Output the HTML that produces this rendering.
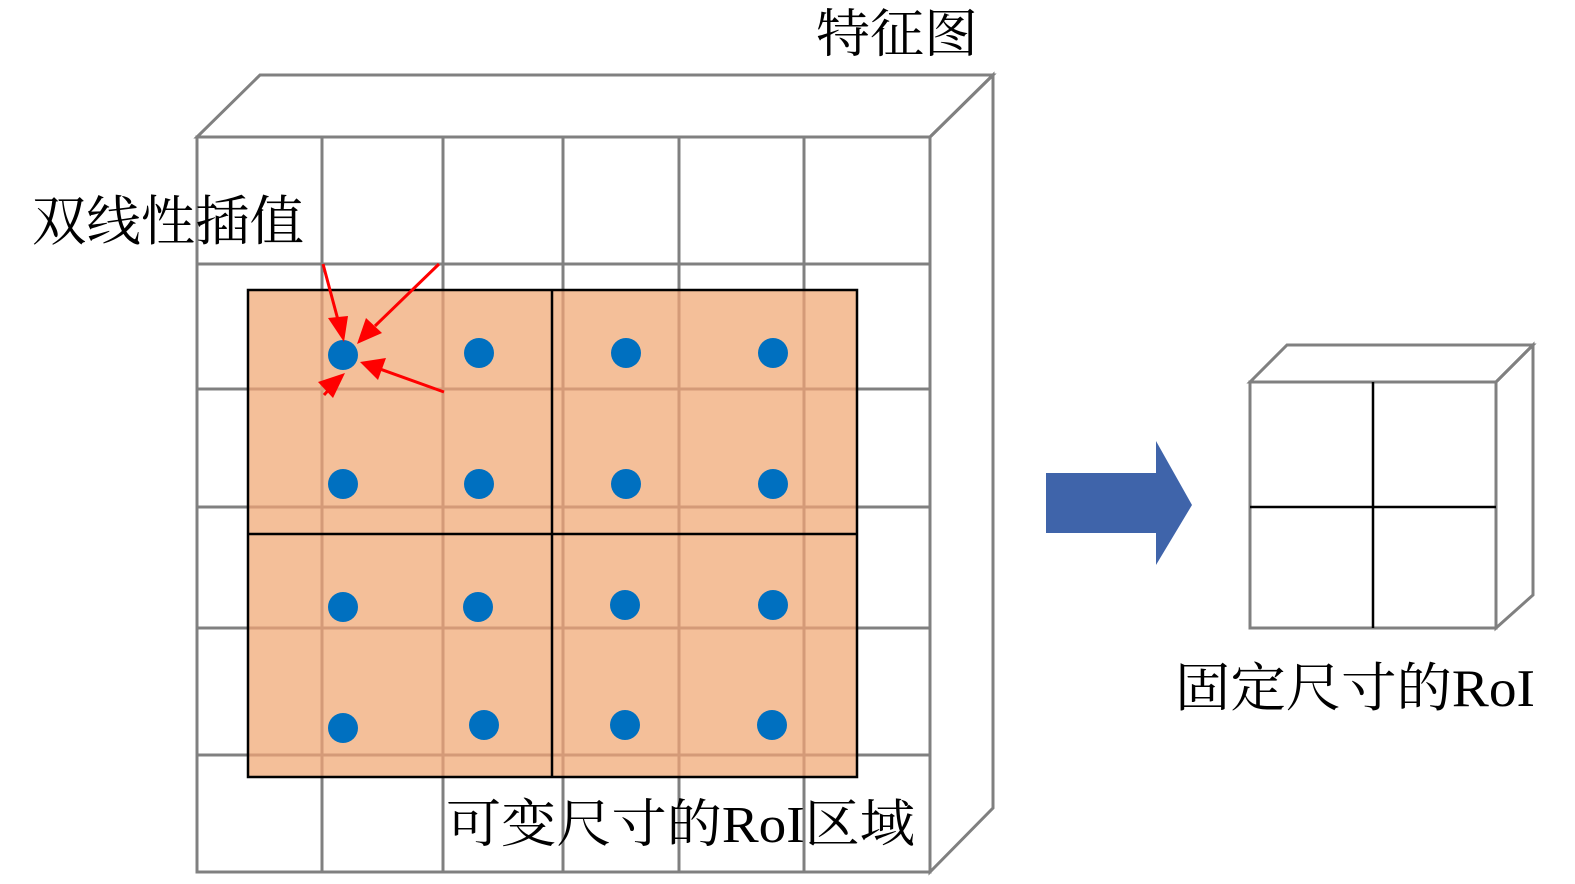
<!DOCTYPE html>
<html><head><meta charset="utf-8"><style>
html,body{margin:0;padding:0;background:#fff;}
svg{display:block;}
text{font-family:"Liberation Serif","Noto Serif CJK SC",serif;fill:#000;}
</style></head><body>
<svg width="1575" height="884" viewBox="0 0 1575 884" xmlns="http://www.w3.org/2000/svg">
<g stroke="#808080" stroke-width="3" fill="none">
<polygon points="197,137 260,75 993,75 930,137"/>
<polygon points="930,137 993,75 993,808 930,872"/>
<rect x="197" y="137" width="733" height="735"/>
<line x1="322" y1="137" x2="322" y2="872"/><line x1="443" y1="137" x2="443" y2="872"/>
<line x1="563" y1="137" x2="563" y2="872"/><line x1="679" y1="137" x2="679" y2="872"/>
<line x1="804" y1="137" x2="804" y2="872"/>
<line x1="197" y1="264" x2="930" y2="264"/><line x1="197" y1="389" x2="930" y2="389"/>
<line x1="197" y1="507" x2="930" y2="507"/><line x1="197" y1="628" x2="930" y2="628"/>
<line x1="197" y1="755" x2="930" y2="755"/>
</g>
<rect x="248" y="290" width="609" height="487" fill="#f4bf99"/>
<g stroke="#d49a78" stroke-width="3">
<line x1="322" y1="290" x2="322" y2="777"/><line x1="443" y1="290" x2="443" y2="777"/>
<line x1="563" y1="290" x2="563" y2="777"/><line x1="679" y1="290" x2="679" y2="777"/>
<line x1="804" y1="290" x2="804" y2="777"/>
<line x1="248" y1="389" x2="857" y2="389"/><line x1="248" y1="507" x2="857" y2="507"/>
<line x1="248" y1="628" x2="857" y2="628"/><line x1="248" y1="755" x2="857" y2="755"/>
</g>
<g stroke="#000" stroke-width="2.5" fill="none">
<rect x="248" y="290" width="609" height="487"/>
<line x1="552" y1="290" x2="552" y2="777"/>
<line x1="248" y1="534" x2="857" y2="534"/>
</g>
<g fill="#0070c0">
<circle cx="343" cy="355" r="15"/><circle cx="479" cy="353" r="15"/><circle cx="626" cy="353" r="15"/><circle cx="773" cy="353" r="15"/>
<circle cx="343" cy="484" r="15"/><circle cx="479" cy="484" r="15"/><circle cx="626" cy="484" r="15"/><circle cx="773" cy="484" r="15"/>
<circle cx="343" cy="607" r="15"/><circle cx="478" cy="607" r="15"/><circle cx="625" cy="605" r="15"/><circle cx="773" cy="605" r="15"/>
<circle cx="343" cy="728" r="15"/><circle cx="484" cy="725" r="15"/><circle cx="625" cy="725" r="15"/><circle cx="772" cy="725" r="15"/>
</g>
<g stroke="#f00" stroke-width="3" fill="#f00">
<line x1="323" y1="264" x2="338" y2="320"/><polygon points="344,342 328,318 348,316" stroke="none"/>
<line x1="439" y1="264" x2="375" y2="326"/><polygon points="357,344 366,318 382,333" stroke="none"/>
<line x1="444" y1="392" x2="380" y2="369"/><polygon points="360,362 386,358 378,380" stroke="none"/>
<line x1="324" y1="395" x2="333" y2="385"/><polygon points="345,373 333,398 318,382" stroke="none"/>
</g>
<polygon points="1046,473 1156,473 1156,441 1192,505 1156,565 1156,533 1046,533" fill="#3f64aa"/>
<g stroke="#808080" stroke-width="3" fill="none">
<polygon points="1250,382 1287,345 1533,345 1496,382"/>
<polygon points="1496,382 1533,345 1533,595 1496,628"/>
<rect x="1250" y="382" width="246" height="246"/>
</g>
<g stroke="#000" stroke-width="2.5">
<line x1="1373" y1="382" x2="1373" y2="628"/>
<line x1="1250" y1="507" x2="1496" y2="507"/>
</g>
<text x="816" y="52" font-size="52" textLength="162" lengthAdjust="spacingAndGlyphs">特征图</text>
<text x="32" y="240" font-size="54" textLength="272" lengthAdjust="spacingAndGlyphs">双线性插值</text>
<text x="446" y="842" font-size="52" textLength="469" lengthAdjust="spacingAndGlyphs">可变尺寸的RoI区域</text>
<text x="1175" y="706" font-size="53" textLength="360" lengthAdjust="spacingAndGlyphs">固定尺寸的RoI</text>
</svg>
</body></html>
